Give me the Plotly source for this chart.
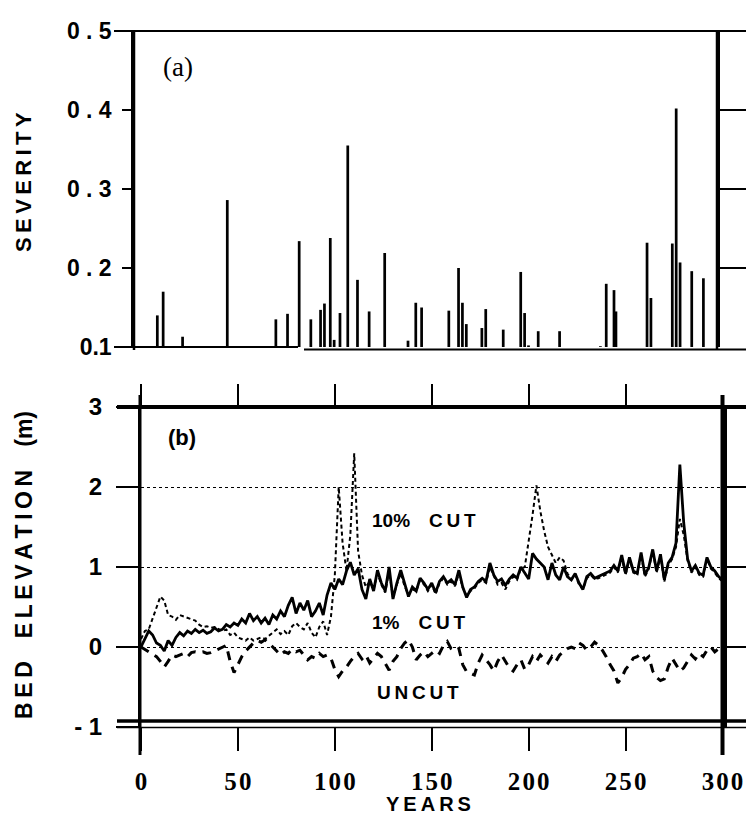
import plotly.graph_objects as go

# ---------------- data ----------------
# Panel (a): flood severity events
sev_years = [12, 15, 25, 48, 73, 79, 85, 91, 96, 98, 101, 103, 106, 110, 115, 121,
             129, 141, 145, 148, 162, 167, 169, 171, 179, 181, 190, 199, 201, 203,
             208, 219, 240, 243, 247, 248, 264, 266, 277, 279, 281, 287, 293]
sev_values = [0.140, 0.170, 0.113, 0.286, 0.135, 0.142, 0.234, 0.135, 0.147, 0.155,
              0.238, 0.109, 0.143, 0.355, 0.185, 0.145, 0.219, 0.108, 0.156, 0.150,
              0.146, 0.200, 0.156, 0.129, 0.124, 0.148, 0.122, 0.195, 0.143, 0.102,
              0.120, 0.120, 0.101, 0.180, 0.172, 0.145, 0.232, 0.162, 0.231, 0.402,
              0.207, 0.196, 0.187]

# Panel (b): bed elevation (m), every 2 years from 0 to 300
years = list(range(0, 301, 2))

cut1_elev = [
    0.00, 0.10, 0.20, 0.15, 0.05, 0.02, -0.05, 0.08, 0.02, 0.12,
    0.18, 0.14, 0.20, 0.17, 0.22, 0.18, 0.21, 0.17, 0.19, 0.24,
    0.20, 0.22, 0.28, 0.25, 0.30, 0.27, 0.35, 0.30, 0.42, 0.33,
    0.38, 0.30, 0.36, 0.28, 0.40, 0.35, 0.45, 0.38, 0.52, 0.62,
    0.42, 0.55, 0.46, 0.58, 0.38, 0.45, 0.55, 0.40, 0.65, 0.80,
    0.72, 0.85, 0.78, 0.95, 1.06, 0.90, 0.98, 0.72, 0.60, 0.85,
    0.70, 0.96, 0.80, 0.70, 1.00, 0.60, 0.80, 0.96, 0.78, 0.63,
    0.75, 0.70, 0.86, 0.80, 0.72, 0.80, 0.68, 0.82, 0.88, 0.80,
    0.84, 0.78, 0.96, 0.75, 0.62, 0.72, 0.75, 0.82, 0.86, 0.82,
    1.05, 0.90, 0.82, 0.85, 0.77, 0.85, 0.90, 0.86, 1.00, 0.92,
    0.85, 1.17, 1.10, 1.05, 1.00, 0.84, 1.05, 0.90, 0.84, 1.00,
    0.88, 0.84, 0.92, 0.80, 0.72, 0.88, 0.92, 0.86, 0.88, 0.90,
    0.92, 0.95, 1.02, 0.95, 1.15, 0.92, 1.12, 0.95, 0.92, 1.18,
    0.90, 1.00, 1.22, 0.95, 1.16, 0.84, 1.05, 1.12, 1.30, 2.28,
    1.55, 1.10, 0.95, 1.02, 0.92, 0.90, 1.12, 1.00, 0.95, 0.88,
    0.84]

cut10_elev = [
    0.10, 0.20, 0.22, 0.35, 0.50, 0.63, 0.58, 0.40, 0.38, 0.34,
    0.40, 0.38, 0.36, 0.34, 0.33, 0.28, 0.25, 0.26, 0.24, 0.25,
    0.22, 0.20, 0.22, 0.15, 0.18, 0.12, 0.10, 0.08, 0.12, 0.08,
    0.10, 0.12, 0.10, 0.14, 0.18, 0.22, 0.16, 0.20, 0.15, 0.26,
    0.30, 0.25, 0.22, 0.30, 0.18, 0.12, 0.25, 0.32, 0.15, 0.38,
    0.90, 2.00, 1.30, 0.95, 1.40, 2.42, 1.20, 0.90, 0.75, 0.82,
    0.72, 0.92, 0.78, 0.68, 0.95, 0.62, 0.78, 0.92, 0.76, 0.65,
    0.72, 0.70, 0.84, 0.78, 0.70, 0.78, 0.66, 0.80, 0.86, 0.78,
    0.82, 0.76, 0.92, 0.74, 0.64, 0.70, 0.73, 0.80, 0.84, 0.80,
    1.00, 0.88, 0.78, 0.80, 0.72, 0.82, 0.88, 0.84, 0.98, 1.00,
    1.30, 1.65, 2.02, 1.70, 1.45, 1.25, 1.15, 1.05, 1.12, 1.08,
    0.92, 0.84, 0.90, 0.78, 0.72, 0.86, 0.90, 0.85, 0.86, 0.88,
    0.90, 0.93, 1.00, 0.93, 1.12, 0.90, 1.10, 0.93, 0.90, 1.15,
    0.88, 0.98, 1.20, 0.93, 1.14, 0.82, 1.02, 1.10, 1.25, 1.60,
    1.40, 1.08, 0.93, 1.00, 0.90, 0.88, 1.10, 0.98, 0.93, 0.86,
    0.82]

uncut_elev = [
    0.00, -0.03, -0.05, -0.08, -0.12, -0.18, -0.25, -0.18, -0.10, -0.12,
    -0.10, -0.08, -0.12, -0.07, -0.06, -0.07, -0.06, -0.08, -0.07, -0.05,
    -0.02, 0.00, 0.02, -0.18, -0.32, -0.22, -0.12, -0.05, 0.00, 0.05,
    0.08, 0.06, 0.09, 0.05, 0.00, -0.05, -0.10, -0.06, -0.08, -0.03,
    -0.06, -0.04, -0.10, -0.16, -0.12, -0.14, -0.08, -0.12, -0.10, -0.14,
    -0.28, -0.37, -0.30, -0.25, -0.18, -0.12, -0.08, -0.15, -0.10, -0.20,
    -0.14, -0.08, -0.12, -0.20, -0.29, -0.18, -0.12, -0.02, 0.05, 0.09,
    0.00, -0.16, -0.10, -0.06, -0.12, -0.08, -0.04, -0.08, 0.02, 0.07,
    -0.02, -0.05, -0.02, -0.22, -0.31, -0.33, -0.35, -0.20, -0.10, -0.16,
    -0.22, -0.30, -0.18, -0.10, -0.18, -0.26, -0.30, -0.22, -0.16, -0.28,
    -0.22, -0.12, -0.18, -0.10, -0.15, -0.20, -0.12, -0.18, -0.10, -0.06,
    -0.02, 0.00, -0.02, 0.05, 0.02, -0.04, 0.00, 0.06, 0.02, -0.04,
    -0.12, -0.22, -0.30, -0.45, -0.38, -0.28, -0.22, -0.14, -0.12, -0.08,
    -0.16, -0.12, -0.30, -0.38, -0.42, -0.40, -0.25, -0.14, -0.22, -0.30,
    -0.26, -0.18, -0.10, -0.15, -0.08, -0.12, -0.04, 0.00, -0.06, -0.02,
    0.00]

sev_tickvals = [0.1, 0.2, 0.3, 0.4, 0.5]
sev_ticktext = ["0.1", "0 . 2", "0 . 3", "0 . 4", "0 . 5"]
elev_tickvals = [-1, 0, 1, 2, 3]
elev_ticktext = ["- 1", "0", "1", "2", "3"]
year_tickvals = [0, 50, 100, 150, 200, 250, 300]
year_ticktext = ["0", "5\u200a0", "1\u200a0\u200a0", "1\u200a5\u200a0", "2\u200a0\u200a0",
                 "2\u200a5\u200a0", "3\u200a0\u200a0"]

assert len(cut1_elev) == len(years) == len(cut10_elev) == len(uncut_elev)

# ---------------- figure ----------------
W, H = 746, 814


def px(x):
    return x / W


def py(y):
    return 1 - y / H


SANS = "Liberation Sans"
SERIF = "Liberation Serif"
BLK = "black"

fig = go.Figure()

fig.add_trace(go.Bar(x=sev_years, y=sev_values, width=1.4, marker=dict(color=BLK, line=dict(width=0)),
                     xaxis="x", yaxis="y", name="Severity"))
# invisible helpers so overlay axes are drawn
fig.add_trace(go.Scatter(x=[None], y=[None], xaxis="x", yaxis="y4", showlegend=False, hoverinfo="skip"))

fig.add_trace(go.Scatter(x=years, y=uncut_elev, mode="lines", name="UNCUT",
                         line=dict(color=BLK, width=3, dash="9px,7px"), xaxis="x2", yaxis="y2"))
fig.add_trace(go.Scatter(x=years, y=cut10_elev, mode="lines", name="10% CUT",
                         line=dict(color=BLK, width=2, dash="4px,3px"), xaxis="x2", yaxis="y2"))
fig.add_trace(go.Scatter(x=years, y=cut1_elev, mode="lines", name="1% CUT",
                         line=dict(color=BLK, width=2.8), xaxis="x2", yaxis="y2"))
fig.add_trace(go.Scatter(x=[None], y=[None], xaxis="x3", yaxis="y2", showlegend=False, hoverinfo="skip"))
fig.add_trace(go.Scatter(x=[None], y=[None], xaxis="x2", yaxis="y3", showlegend=False, hoverinfo="skip"))

ylab_font = dict(family=SANS, size=23, color=BLK, weight="bold")

fig.update_layout(
    template="none",
    width=W, height=H, margin=dict(l=0, r=0, t=0, b=0, pad=0, autoexpand=False),
    paper_bgcolor="white", plot_bgcolor="white", showlegend=False,
    # panel (a)
    xaxis=dict(domain=[px(134), px(717)], range=[0, 300], anchor="y", showgrid=False,
               zeroline=False, showline=False, ticks="", showticklabels=False, automargin=False),
    yaxis=dict(domain=[py(347), py(31)], range=[0.1, 0.5], anchor="x", showgrid=False,
               zeroline=False, showline=True, linewidth=2.5, linecolor=BLK,
               ticks="outside", ticklen=9, tickwidth=2, tickcolor=BLK,
               tickvals=sev_tickvals, ticktext=sev_ticktext, ticklabelstandoff=6,
               tickfont=ylab_font, automargin=False),
    yaxis4=dict(overlaying="y", side="right", anchor="x", range=[0.1, 0.5], showgrid=False,
                zeroline=False, showline=True, linewidth=2.5, linecolor=BLK,
                ticks="outside", ticklen=28, tickwidth=2, tickcolor=BLK,
                tickvals=[0.2, 0.3, 0.4], showticklabels=False, automargin=False),
    # panel (b)
    xaxis2=dict(domain=[px(141), px(722.5)], range=[0, 300], anchor="y2", showgrid=False,
                zeroline=False, showline=False, ticks="outside", ticklen=23, tickwidth=1.5,
                tickcolor=BLK, tickvals=year_tickvals, ticktext=year_ticktext,
                ticklabelstandoff=9, automargin=False,
                tickfont=dict(family=SERIF, size=25, color=BLK, weight="bold")),
    xaxis3=dict(overlaying="x2", side="top", anchor="y2", range=[0, 300], showgrid=False,
                zeroline=False, showline=False, ticks="outside", ticklen=22, tickwidth=1.5,
                tickcolor=BLK, tickvals=[0, 50, 100, 150, 200, 250], showticklabels=False,
                automargin=False),
    yaxis2=dict(domain=[py(727), py(407)], range=[-1, 3], anchor="x2",
                showgrid=True, gridcolor=BLK, griddash="dot", gridwidth=1.2,
                zeroline=False, showline=True, linewidth=3, linecolor=BLK,
                ticks="outside", ticklen=22, tickwidth=1.5, tickcolor=BLK,
                tickvals=elev_tickvals, ticktext=elev_ticktext, ticklabelstandoff=9,
                automargin=False,
                tickfont=dict(family=SANS, size=24, color=BLK, weight="bold")),
    yaxis3=dict(overlaying="y2", side="right", anchor="x2", range=[-1, 3], showgrid=False,
                zeroline=False, showline=True, linewidth=3.5, linecolor=BLK,
                ticks="outside", ticklen=24, tickwidth=2, tickcolor=BLK,
                tickvals=[0, 1, 2], showticklabels=False, automargin=False),
)

# frame lines
def hline(x0, x1, y, w):
    fig.add_shape(type="line", xref="paper", yref="paper", x0=px(x0), x1=px(x1),
                  y0=py(y), y1=py(y), line=dict(color=BLK, width=w))


def vline(x, y0, y1, w):
    fig.add_shape(type="line", xref="paper", yref="paper", x0=px(x), x1=px(x),
                  y0=py(y0), y1=py(y1), line=dict(color=BLK, width=w))


# panel (a)
hline(114, 746, 31, 2.2)
hline(114, 298, 347, 2.2)
hline(304, 746, 349.5, 2.2)
vline(134, 31, 350, 2.5)
vline(717, 31, 350, 2.5)
# panel (b)
hline(117, 746, 407, 4)
hline(117, 746, 721, 3.5)
hline(117, 746, 727.5, 1.5)
vline(140, 395, 755, 3)
vline(722.5, 395, 755, 4)

# texts
def note(text, x, y, size, family=SANS, bold=True, angle=0):
    fig.add_annotation(text=text, xref="paper", yref="paper", x=px(x), y=py(y),
                       showarrow=False, textangle=angle, xanchor="center", yanchor="middle",
                       font=dict(family=family, size=size, color=BLK,
                                 weight="bold" if bold else "normal"))


note("(a)", 178, 67, 27, family=SERIF, bold=False)
note("(b)", 182, 437, 22)
note("10%\u2003C\u2009U\u2009T", 424, 520, 19)
note("1%\u2003C\u2009U\u2009T", 419, 622, 19)
note("U\u2009N\u2009C\u2009U\u2009T", 418, 692, 19)
note("S\u2009E\u2009V\u2009E\u2009R\u2009I\u2009T\u2009Y", 23, 182, 22, angle=-90)
note("B\u2009E\u2009D\u2003E\u2009L\u2009E\u2009V\u2009A\u2009T\u2009I\u2009O\u2009N\u2003(m)",
     24, 565, 23, angle=-90)
note("Y\u2009E\u2009A\u2009R\u2009S", 428, 804, 20)

fig.write_html(
    "out.html",
    config={"displayModeBar": False},
    post_script="document.body.style.margin='0';document.body.style.overflow='hidden';",
)
